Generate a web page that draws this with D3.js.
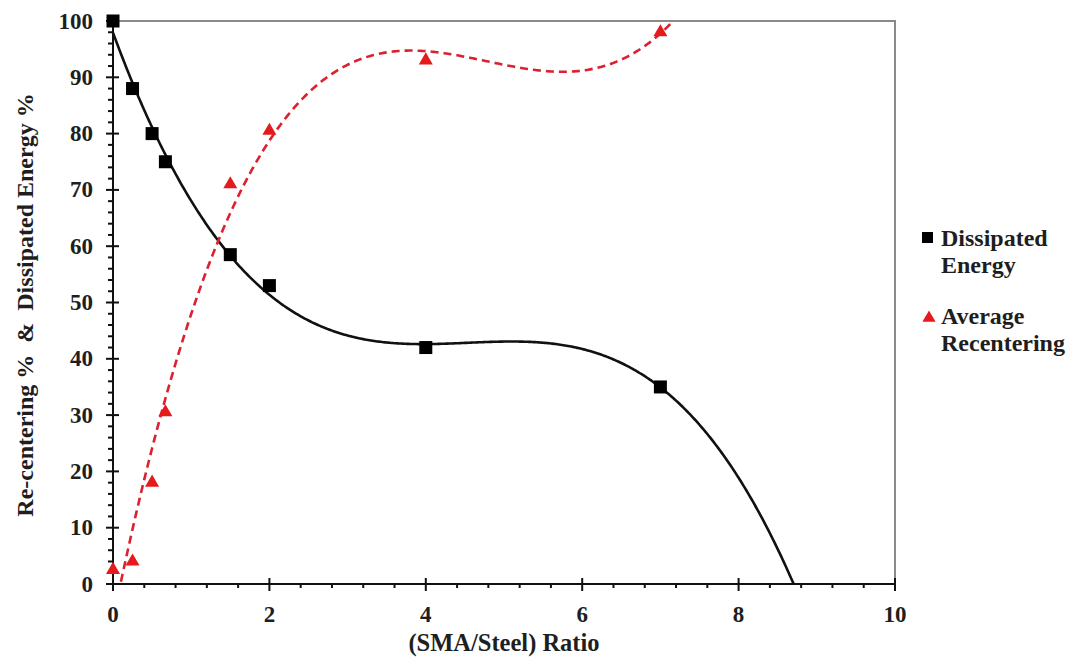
<!DOCTYPE html>
<html>
<head>
<meta charset="utf-8">
<script src="https://cdn.jsdelivr.net/npm/d3@7"></script>
<style>
  html, body { margin: 0; padding: 0; background: #fff; }
  svg text { font-family: "Liberation Serif", "DejaVu Serif", serif; font-weight: bold; fill: #1e1e1e; }
</style>
</head>
<body>
<svg id="chart" width="1072" height="659"></svg>
<script>
// SMA/Steel ratio tested
const ratios = [0, 0.25, 0.5, 0.67, 1.5, 2, 4, 7];
// Dissipated energy (%)
const dissipated = [100, 88, 80, 75, 58.5, 53, 42, 35];
// Average re-centering (%)
const recentering = [2.5, 4, 18, 30.5, 71, 80.5, 93, 98];
const seriesNames = ["Dissipated Energy", "Average Recentering"];
const xTicks = [0, 2, 4, 6, 8, 10];
const yTicks = [0, 10, 20, 30, 40, 50, 60, 70, 80, 90, 100];

const svg = d3.select("#chart");
const pL = 113, pR = 895, pT = 21, pB = 584;

const x = d3.scaleLinear().domain([0, 10]).range([pL, pR]);
const y = d3.scaleLinear().domain([0, 100]).range([pB, pT]);

// least-squares polynomial trendline
function polyFit(xs, ys, order) {
  const n = order + 1;
  const A = Array.from({length: n}, () => new Array(n + 1).fill(0));
  for (let r = 0; r < n; r++) {
    for (let c = 0; c < n; c++) A[r][c] = d3.sum(xs, v => Math.pow(v, r + c));
    A[r][n] = d3.sum(xs, (v, i) => ys[i] * Math.pow(v, r));
  }
  for (let i = 0; i < n; i++) {
    let p = i;
    for (let k = i + 1; k < n; k++) if (Math.abs(A[k][i]) > Math.abs(A[p][i])) p = k;
    [A[i], A[p]] = [A[p], A[i]];
    for (let k = 0; k < n; k++) {
      if (k === i) continue;
      const f = A[k][i] / A[i][i];
      for (let j = i; j <= n; j++) A[k][j] -= f * A[i][j];
    }
  }
  const coef = A.map((row, i) => row[n] / row[i]);
  return v => coef.reduce((s, c, i) => s + c * Math.pow(v, i), 0);
}

// plot frame: grey top/right border
svg.append("path")
  .attr("d", `M${pL},${pT}H${pR}V${pB}`)
  .attr("fill", "none").attr("stroke", "#8a8a8a").attr("stroke-width", 2);

// clip region for trendlines
svg.append("clipPath").attr("id", "plotClip")
  .append("rect").attr("x", pL).attr("y", pT)
  .attr("width", pR - pL).attr("height", pB - pT);

const fitD = polyFit(ratios, dissipated, 3);
const fitR = polyFit(ratios, recentering, 3);
const xs = d3.range(0, 9.5001, 0.02);
const line = f => d3.line().x(v => x(v)).y(v => y(f(v)))(xs);

const curves = svg.append("g").attr("clip-path", "url(#plotClip)");
curves.append("path").attr("d", line(fitD))
  .attr("fill", "none").attr("stroke", "#111").attr("stroke-width", 2.6);
curves.append("path").attr("d", line(fitR))
  .attr("fill", "none").attr("stroke", "#dc2030").attr("stroke-width", 2.6)
  .attr("stroke-dasharray", "8,5");

// axes
const xMinor = d3.range(0, 10.001, 0.4).filter(v => Math.abs(v / 2 - Math.round(v / 2)) > 1e-6);
const yMinor = d3.range(0, 100.001, 2).filter(v => v % 10 !== 0);
const ax = svg.append("g").attr("stroke", "#111");
ax.append("line").attr("x1", pL).attr("x2", pR).attr("y1", pB).attr("y2", pB).attr("stroke-width", 2);
ax.append("line").attr("x1", pL).attr("x2", pL).attr("y1", pT).attr("y2", pB).attr("stroke-width", 2);
ax.selectAll(".xM").data(xTicks).join("line")
  .attr("x1", d => x(d)).attr("x2", d => x(d)).attr("y1", pB - 6).attr("y2", pB + 7).attr("stroke-width", 2);
ax.selectAll(".xm").data(xMinor).join("line")
  .attr("x1", d => x(d)).attr("x2", d => x(d)).attr("y1", pB).attr("y2", pB + 4).attr("stroke-width", 2);
ax.selectAll(".yM").data(yTicks).join("line")
  .attr("x1", pL - 7).attr("x2", pL + 6).attr("y1", d => y(d)).attr("y2", d => y(d)).attr("stroke-width", 2);
ax.selectAll(".ym").data(yMinor).join("line")
  .attr("x1", pL - 5).attr("x2", pL).attr("y1", d => y(d)).attr("y2", d => y(d)).attr("stroke-width", 2);

svg.append("g").selectAll("text").data(xTicks).join("text")
  .attr("x", d => x(d)).attr("y", 622).attr("text-anchor", "middle")
  .attr("font-size", 23).text(d => d);
svg.append("g").selectAll("text").data(yTicks).join("text")
  .attr("x", 93).attr("y", d => y(d) + 7.5).attr("text-anchor", "end")
  .attr("font-size", 23).text(d => d);

// axis titles
svg.append("text").attr("x", 504).attr("y", 651).attr("text-anchor", "middle")
  .attr("font-size", 24.5).text("(SMA/Steel) Ratio");
svg.append("text").attr("transform", "translate(33,305) rotate(-90)")
  .attr("text-anchor", "middle").attr("font-size", 24)
  .attr("xml:space", "preserve")
  .text("Re-centering %  &  Dissipated Energy %");

// markers
const tri = d3.symbol().type(d3.symbolTriangle).size(85);
svg.append("g").selectAll("rect").data(ratios).join("rect")
  .attr("x", d => x(d) - 6.5).attr("y", (d, i) => y(dissipated[i]) - 6.5)
  .attr("width", 13).attr("height", 13).attr("fill", "#000");
svg.append("g").selectAll("path").data(ratios).join("path")
  .attr("d", tri)
  .attr("transform", (d, i) => `translate(${x(d)},${y(recentering[i])})`)
  .attr("fill", "#e41a1c");

// legend
const lg = svg.append("g");
lg.append("rect").attr("x", 922).attr("y", 232).attr("width", 11).attr("height", 11).attr("fill", "#000");
lg.append("path").attr("d", d3.symbol().type(d3.symbolTriangle).size(75)).attr("transform", "translate(929,318)").attr("fill", "#e41a1c");
const lt = [["Dissipated", 246], ["Energy", 273], ["Average", 324], ["Recentering", 351]];
lg.selectAll("text").data(lt).join("text")
  .attr("x", 941).attr("y", d => d[1]).attr("font-size", 24).text(d => d[0]);
</script>
</body>
</html>
